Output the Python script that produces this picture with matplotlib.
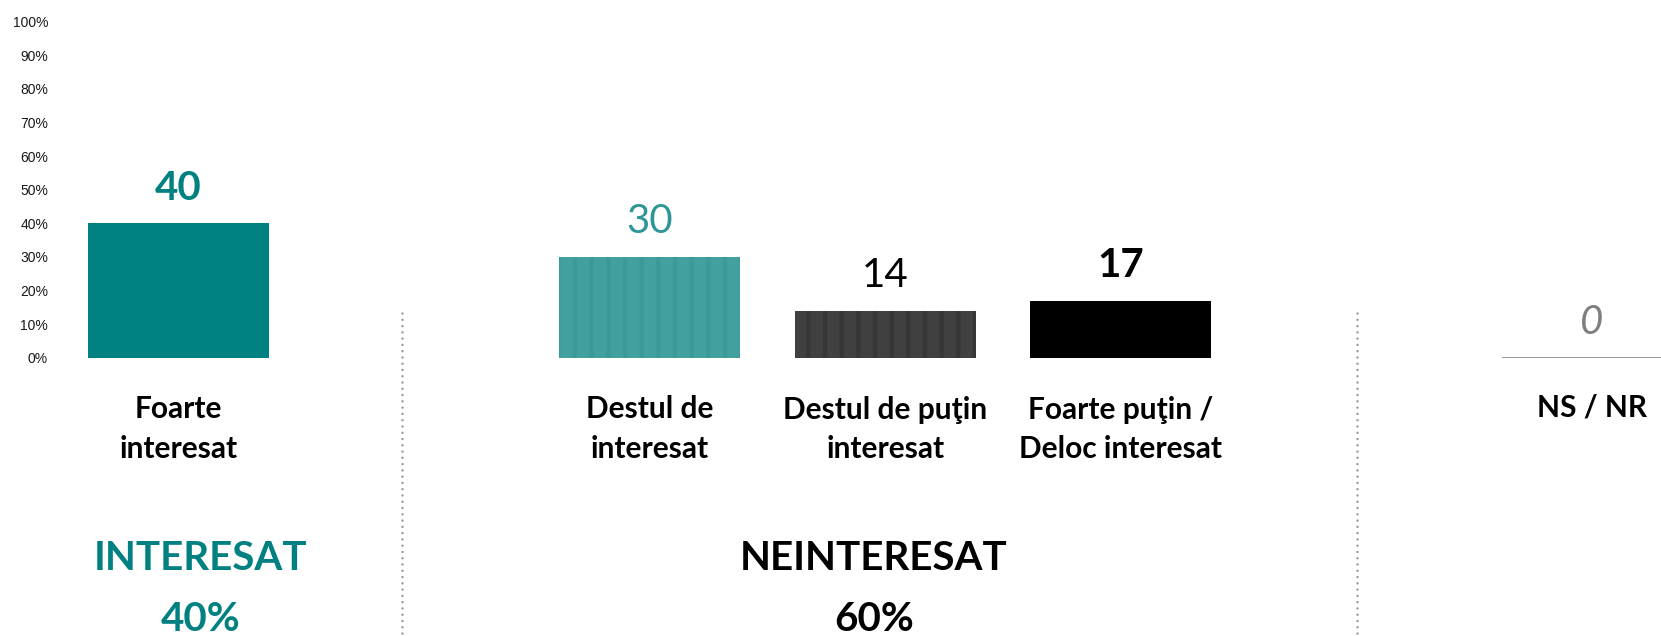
import matplotlib
matplotlib.use("Agg")
import matplotlib.pyplot as plt
from matplotlib.transforms import blended_transform_factory

# ---- data ----
categories = ["Foarte\ninteresat", "Destul de\ninteresat", "Destul de puţin\ninteresat",
              "Foarte puţin /\nDeloc interesat", "NS / NR"]
values = [40, 30, 14, 17, 0]
group_labels = ["INTERESAT", "NEINTERESAT"]
group_values = [40, 60]
yticks = [0, 10, 20, 30, 40, 50, 60, 70, 80, 90, 100]

# ---- layout / style ----
positions = [0, 2, 3, 4, 6]
bar_colors = ["#008080", "#42A09F", "#404040", "#000000", "#ffffff"]
hatch_colors = [None, "#3A9A99", "#363636", None, None]
label_colors = ["#008080", "#2E9696", "#000000", "#000000", "#7F7F7F"]
label_weights = ["bold", "normal", "normal", "bold", "normal"]
label_styles = ["normal", "normal", "normal", "normal", "italic"]
group_x = [0.095, 2.952]
group_colors = ["#008080", "#000000"]
sep_x = [0.9487, 5.002]

FONT = ["Lato", "DejaVu Sans"]
plt.rcParams["hatch.linewidth"] = 3.0

W, H = 1661, 636
fig = plt.figure(figsize=(W / 100, H / 100), dpi=100)
left = 55 / W
bottom = (H - 357.7) / H
top = (H - 21.7) / H
ax = fig.add_axes([left, bottom, 1 - left, top - bottom])

step = 235.6
xmin = -(178.5 - 55) / step
xmax = xmin + (W - 55) / step
ax.set_xlim(xmin, xmax)
ax.set_ylim(0, 100)

width = 181 / step
for p, v, c, hc in zip(positions, values, bar_colors, hatch_colors):
    if v == 0:
        ax.bar(p, v, width=width, color="none", edgecolor="#9a9a9a", linewidth=1.2)
    elif hc is not None:
        ax.bar(p, v, width=width, color=c, edgecolor=hc, linewidth=0, hatch="|")
    else:
        ax.bar(p, v, width=width, color=c, linewidth=0)

for p, v, c, w, s in zip(positions, values, label_colors, label_weights, label_styles):
    ax.annotate(str(v), (p, v), xytext=(0, 17), textcoords="offset points",
                ha="center", va="baseline", fontsize=29, color=c,
                fontweight=w, fontstyle=s, family=FONT)

tr = blended_transform_factory(ax.transData, fig.transFigure)
line_gap = 41
for p, cat in zip(positions, categories):
    nlines = cat.count("\n") + 1
    base = 417 + (nlines - 1) * line_gap
    ax.text(p, (H - base) / H, cat, transform=tr, ha="center", va="baseline",
            multialignment="center", fontsize=21.5, fontweight="bold",
            color="#000000", family=FONT, linespacing=1.5)

for gx, gl, gv, gc in zip(group_x, group_labels, group_values, group_colors):
    ax.text(gx, (H - 570) / H, gl, transform=tr, ha="center", va="baseline",
            fontsize=29, fontweight="bold", color=gc, family=FONT)
    ax.text(gx, (H - 631) / H, f"{gv}%", transform=tr, ha="center", va="baseline",
            fontsize=29, fontweight="bold", color=gc, family=FONT)

for sx in sep_x:
    ax.plot([sx, sx], [(H - 313) / H, 0], transform=tr, color="#9a9a9a",
            linewidth=1.8, linestyle=(0, (0.01, 2.5)), dash_capstyle="round",
            clip_on=False)

ax.set_yticks(yticks)
ax.set_yticklabels([f"{t}%" for t in yticks], family=["Liberation Sans", "DejaVu Sans"],
                   fontsize=10, color="#1a1a1a")
ax.tick_params(axis="y", length=0, pad=5)
ax.set_xticks([])
for sp in ax.spines.values():
    sp.set_visible(False)
ax.patch.set_alpha(0)

fig.savefig("out.png", dpi=100)
